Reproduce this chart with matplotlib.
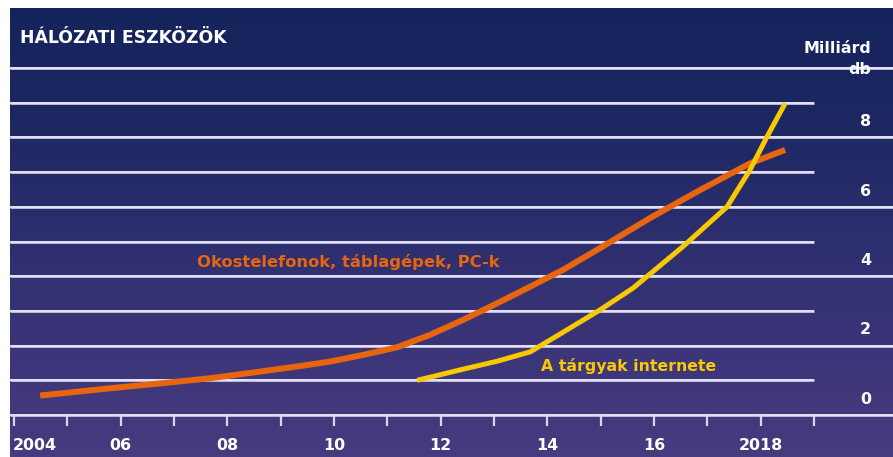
import numpy as np
import matplotlib
matplotlib.use("Agg")
import matplotlib.pyplot as plt
from matplotlib.colors import LinearSegmentedColormap

# ---- data ----
title = "HÁLÓZATI ESZKÖZÖK"
unit_label = ["Milliárd", "db"]
ytick_values = [0, 2, 4, 6, 8]
xtick_years = [2004, 2006, 2008, 2010, 2012, 2014, 2016, 2018]
xtick_labels = ["2004", "06", "08", "10", "12", "14", "16", "2018"]

devices_label = "Okostelefonok, táblagépek, PC-k"
devices_years = [2004.49, 2005.80, 2006.74, 2007.68, 2008.61, 2009.36, 2009.93,
                 2010.54, 2011.18, 2011.80, 2012.42, 2013.06, 2013.68, 2014.29,
                 2014.99, 2015.93, 2016.86, 2017.80, 2018.46]
devices_vals = [0.56, 0.77, 0.91, 1.06, 1.25, 1.41, 1.54,
                1.73, 1.95, 2.31, 2.74, 3.22, 3.70, 4.18,
                4.81, 5.68, 6.48, 7.25, 7.64]

iot_label = "A tárgyak internete"
iot_years = [2011.56, 2012.42, 2013.06, 2013.68, 2014.29, 2014.99, 2015.61,
             2016.54, 2017.37, 2017.80, 2018.12, 2018.46]
iot_vals = [1.00, 1.32, 1.55, 1.82, 2.38, 3.03, 3.66,
            4.85, 6.00, 7.06, 8.02, 8.98]

# ---- figure ----
W, H = 893, 457
fig = plt.figure(figsize=(W / 100, H / 100), dpi=100)
fig.patch.set_facecolor("white")

PX = 0.72  # points per pixel

left_px, top_px = 10, 8
ax = fig.add_axes([left_px / W, 0, (W - left_px) / W, (H - top_px) / H])
x0_year = 2004 - 4 / 53.33
x1_year = 2004 + (W - 14) / 53.33
y0 = -(H - 415) / 34.7
y1 = (415 - top_px) / 34.7
ax.axis("off")

# gradient background (bottom purple -> top navy)
cmap = LinearSegmentedColormap.from_list(
    "bg", ["#483b80", "#3b3578", "#2c2e6e", "#1d2862", "#15235b"])
grad = np.linspace(0, 1, 256).reshape(-1, 1)
ax.imshow(grad, extent=(x0_year, x1_year, y0, y1), aspect="auto",
          cmap=cmap, zorder=0, origin="lower")
ax.set_xlim(x0_year, x1_year)
ax.set_ylim(y0, y1)

grid_core = "#eeeef8"
grid_halo = "#b9b7dc"
# gridlines: even values full width, odd values short
for v in range(1, 11):
    xe = x1_year if v % 2 == 0 else 2019
    ax.plot([x0_year, xe], [v, v], color=grid_halo, lw=3.0 * PX,
            solid_capstyle="butt", zorder=1)
    ax.plot([x0_year, xe], [v, v], color=grid_core, lw=1.5 * PX,
            solid_capstyle="butt", zorder=1.1)
# axis line
ax.plot([x0_year, x1_year], [0, 0], color=grid_halo, lw=3.0 * PX,
        solid_capstyle="butt", zorder=1)
ax.plot([x0_year, x1_year], [0, 0], color=grid_core, lw=1.5 * PX,
        solid_capstyle="butt", zorder=1.1)
# year ticks
for yr in range(2004, 2020):
    ax.plot([yr, yr], [0, -0.33], color="#d8d6ee", lw=2.2 * PX,
            solid_capstyle="butt", zorder=1.1)

# series
orange = "#e8650f"
yellow = "#f8c800"
ax.plot(devices_years, devices_vals, color=orange, lw=6 * PX,
        solid_capstyle="butt", solid_joinstyle="round", zorder=3)
ax.plot(iot_years, iot_vals, color=yellow, lw=5 * PX,
        solid_capstyle="butt", solid_joinstyle="round", zorder=4)

font = "DejaVu Sans"

def fpx(x, y):
    return x / W, 1 - y / H

# title
fig.text(*fpx(20, 43), title, color="white", fontsize=12.4, fontweight="bold",
         family=font, ha="left", va="baseline")
# unit label
fig.text(*fpx(871, 53), unit_label[0], color="white", fontsize=11.4,
         fontweight="bold", family=font, ha="right", va="baseline")
fig.text(*fpx(871, 74), unit_label[1], color="white", fontsize=11.4,
         fontweight="bold", family=font, ha="right", va="baseline")

# y tick labels (placed above their full gridline)
ylab_x = 2004 + (871 - 14) / 53.33
for v in ytick_values:
    ax.text(ylab_x, v + 0.32, str(v), color="white", fontsize=11.4,
            fontweight="bold", family=font, ha="right", va="baseline", zorder=5)

# x tick labels
for yr, lab in zip(xtick_years, xtick_labels):
    ha = "left" if lab == "2004" else "center"
    xx = yr - 0.02 if lab == "2004" else yr
    ax.text(xx, -(450 - 415) / 34.7, lab, color="white", fontsize=11.4,
            fontweight="bold", family=font, ha=ha, va="baseline", zorder=5)

# series labels
fig.text(*fpx(197, 267), devices_label, color=orange, fontsize=11.8,
         fontweight="bold", family=font, ha="left", va="baseline")
fig.text(*fpx(541, 371), iot_label, color=yellow, fontsize=11.3,
         fontweight="bold", family=font, ha="left", va="baseline")

fig.savefig("out.png", dpi=100, facecolor="white")
